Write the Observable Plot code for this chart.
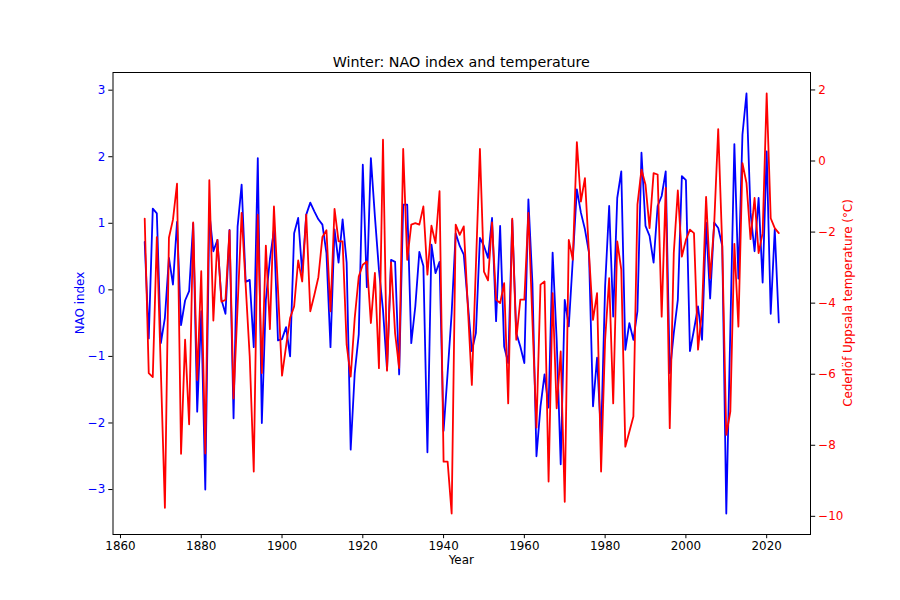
<!DOCTYPE html>
<html><head><meta charset="utf-8">
<script src="https://cdn.jsdelivr.net/npm/d3@7"></script>
<script src="https://cdn.jsdelivr.net/npm/@observablehq/plot@0.6"></script>
<style>
html,body{margin:0;padding:0;background:#fff}
svg{font-family:"DejaVu Sans",sans-serif}
</style>
</head><body><div id="chart"></div>
<script>
const firstYear = 1866;
// NAO index (winter), 1866–2023
const nao = [
  0.72,-0.73,1.22,1.15,-0.80,-0.42,0.48,0.08,1.02,-0.53,           // 1866-1875
  -0.16,-0.02,1.00,-1.83,-0.32,-3.00,1.16,0.58,0.75,-0.15,          // 1876-1885
  -0.36,0.90,-1.93,0.95,1.58,0.12,0.15,-0.86,1.98,-2.00,            // 1886-1895
  -0.15,0.46,0.90,-0.76,-0.74,-0.56,-1.00,0.85,1.08,0.25,           // 1896-1905
  1.13,1.31,1.18,1.06,0.98,0.55,-0.86,0.91,0.41,1.06,               // 1906-1915
  0.41,-2.40,-1.25,-0.67,1.88,0.04,1.98,1.10,0.30,-0.30,            // 1916-1925
  -1.20,0.45,0.42,-1.27,1.28,1.28,-0.80,-0.25,0.57,0.36,            // 1926-1935
  -2.44,0.68,0.25,0.42,-2.12,-1.25,-0.35,0.85,0.66,0.53,            // 1936-1945
  -0.20,-0.92,-0.65,0.78,0.66,0.48,1.08,-0.47,0.96,-0.85,           // 1946-1955
  -1.10,1.05,-0.65,-0.85,-1.10,1.36,0.10,-2.50,-1.75,-1.27,         // 1956-1965
  -1.77,0.56,-0.75,-2.62,-0.15,-0.55,0.46,1.51,1.16,0.91,           // 1966-1975
  0.56,-1.75,-1.02,-2.22,0.06,1.26,-0.40,1.38,1.78,-0.90,           // 1976-1985
  -0.50,-0.75,-0.32,2.06,0.96,0.81,0.41,1.26,1.41,1.78,             // 1986-1995
  -1.25,-0.65,-0.15,1.71,1.65,-0.92,-0.60,-0.25,-0.75,1.01,         // 1996-2005
  -0.13,1.01,0.93,0.66,-3.36,-0.60,2.19,0.17,2.33,2.95,             // 2006-2015
  1.16,0.58,1.38,0.11,2.08,-0.36,0.91,-0.49                         // 2016-2023
];
// Cederlöf Uppsala winter temperature (°C), 1866–2023
const temp = [
  -1.62,-5.97,-6.08,-2.14,-5.90,-9.76,-2.16,-1.65,-0.64,-8.24,      // 1866-1875
  -5.03,-7.41,-1.73,-6.16,-3.10,-8.23,-0.54,-4.49,-2.22,-3.96,      // 1876-1885
  -3.91,-1.95,-6.68,-4.10,-1.46,-3.50,-5.50,-8.74,-1.51,-5.97,      // 1886-1895
  -2.38,-4.73,-1.28,-3.62,-6.04,-5.22,-4.42,-4.09,-2.80,-3.39,      // 1896-1905
  -1.51,-4.23,-3.77,-3.27,-2.14,-1.95,-4.23,-1.35,-2.26,-2.26,      // 1906-1915
  -5.17,-6.07,-4.42,-3.25,-2.92,-2.83,-4.56,-3.15,-5.83,0.60,       // 1916-1925
  -5.90,-2.85,-4.85,-5.83,0.34,-2.78,-1.79,-1.75,-1.79,-1.28,       // 1926-1935
  -3.20,-1.82,-2.31,-0.85,-8.46,-8.46,-9.92,-1.79,-2.08,-1.84,      // 1936-1945
  -4.09,-6.30,-2.97,0.34,-3.11,-3.36,-1.73,-3.90,-4.00,-3.44,       // 1946-1955
  -6.82,-1.62,-5.03,-3.90,-3.90,-1.46,-4.50,-7.50,-3.48,-3.39,      // 1956-1965
  -9.02,-3.72,-6.96,-5.36,-9.59,-2.22,-2.78,0.53,-1.14,-0.48,       // 1966-1975
  -2.59,-4.47,-3.72,-8.74,-5.03,-3.30,-6.82,-2.26,-3.06,-8.04,      // 1976-1985
  -7.62,-7.19,-1.23,-0.24,-0.67,-1.89,-0.34,-0.38,-4.38,-0.76,      // 1986-1995
  -7.52,-2.59,-0.83,-2.69,-2.22,-1.93,-2.03,-5.31,-4.19,-1.01,      // 1996-2005
  -3.30,-1.79,0.90,-2.40,-7.71,-7.05,-2.33,-4.66,-0.06,-0.62,       // 2006-2015
  -2.20,-1.04,-2.59,-2.03,1.90,-1.61,-1.89,-2.03                    // 2016-2023
];
const xTicks = [1860, 1880, 1900, 1920, 1940, 1960, 1980, 2000, 2020];
const naoTicks = [-3, -2, -1, 0, 1, 2, 3];
const tempTicks = [-10, -8, -6, -4, -2, 0, 2];

const data = nao.map((v, i) => ({year: firstYear + i, nao: v, temp: temp[i]}));

// axis limits with 5% padding, like matplotlib autoscale
const pad = (lo, hi) => [lo - 0.05 * (hi - lo), hi + 0.05 * (hi - lo)];
const xDom = pad(firstYear, firstYear + nao.length - 1);
const naoDom = pad(d3.min(nao), d3.max(nao));
const tempDom = pad(d3.min(temp), d3.max(temp));
const toNao = t => naoDom[0] + (t - tempDom[0]) * (naoDom[1] - naoDom[0]) / (tempDom[1] - tempDom[0]);
const fromNao = v => tempDom[0] + (v - naoDom[0]) * (tempDom[1] - tempDom[0]) / (naoDom[1] - naoDom[0]);
const fmt = v => (v < 0 ? "\u2212" + (-v) : String(v));

const fs = 11.9;
const plot = Plot.plot({
  width: 900, height: 600,
  marginLeft: 112.5, marginRight: 90, marginTop: 72, marginBottom: 66,
  style: {background: "white", fontFamily: "DejaVu Sans, sans-serif", fontSize: fs + "px", overflow: "visible"},
  x: {domain: xDom},
  y: {domain: naoDom},
  marks: [
    Plot.axisX({ticks: xTicks, tickFormat: d => String(d), tickSize: 4.2, tickPadding: 3, label: null, fontSize: fs, fill: "black", stroke: "black", strokeWidth: 1}),
    Plot.axisY({anchor: "left", ticks: naoTicks, tickFormat: fmt, tickSize: 4.2, tickPadding: 3.5, label: null, fontSize: fs, fill: "blue", stroke: "black", strokeWidth: 1}),
    Plot.axisY({anchor: "right", ticks: tempTicks.map(toNao), tickFormat: v => fmt(Math.round(fromNao(v))), tickSize: 4.2, tickPadding: 3.5, label: null, fontSize: fs, fill: "red", stroke: "black", strokeWidth: 1}),
    Plot.line(data, {x: "year", y: "nao", stroke: "blue", strokeWidth: 1.8}),
    Plot.line(data, {x: "year", y: d => toNao(d.temp), stroke: "red", strokeWidth: 1.8}),
    Plot.frame({stroke: "black", strokeWidth: 1})
  ]
});

const svg = d3.select(plot);
svg.append("text").attr("x", 461.25).attr("y", 67).attr("text-anchor", "middle")
  .attr("font-size", "14.3px").attr("fill", "black").text("Winter: NAO index and temperature");
svg.append("text").attr("x", 461.25).attr("y", 563.5).attr("text-anchor", "middle")
  .attr("font-size", fs + "px").attr("fill", "black").text("Year");
svg.append("text").attr("transform", "translate(84,303) rotate(-90)").attr("text-anchor", "middle")
  .attr("font-size", fs + "px").attr("fill", "blue").text("NAO index");
svg.append("text").attr("transform", "translate(852,303) rotate(-90)").attr("text-anchor", "middle")
  .attr("font-size", fs + "px").attr("fill", "red").text("Cederlöf Uppsala temperature (°C)");

document.getElementById("chart").append(plot);
</script>
</body></html>
